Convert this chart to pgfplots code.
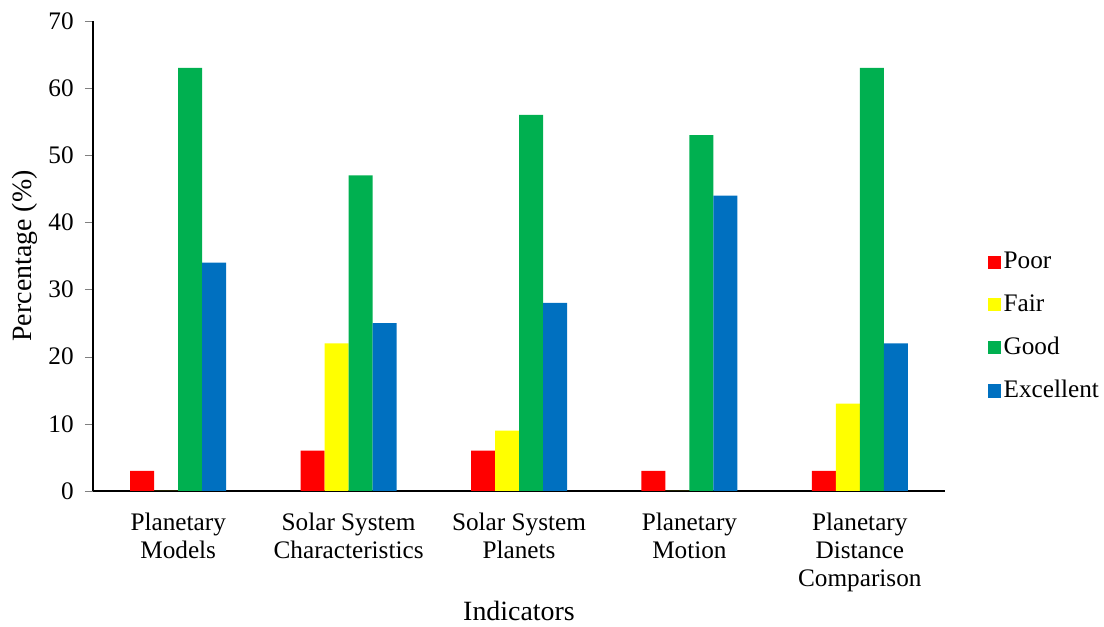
\documentclass[border=0pt]{standalone}
\usepackage{pgfplots}
\pgfplotsset{compat=1.18}
\usepackage{fontspec}
\setmainfont{Liberation Serif}
\definecolor{cpoor}{RGB}{255,0,0}
\definecolor{cfair}{RGB}{255,255,0}
\definecolor{cgood}{RGB}{0,176,80}
\definecolor{cexc}{RGB}{0,112,192}
\begin{document}
\fontsize{19}{21}\selectfont
\begin{tikzpicture}[x=1bp,y=1bp]
\path[use as bounding box] (0,0) rectangle (828,470.25);
\begin{axis}[
  at={(69.75bp,102bp)}, anchor=south west,
  scale only axis, width=639bp, height=352.5bp,
  ybar=0pt, bar width=18bp,
  xmin=-0.5, xmax=4.5, ymin=0, ymax=70,
  xtick=data,
  xticklabels={{Planetary\\Models},{Solar System\\Characteristics},{Solar System\\Planets},{Planetary\\Motion},{Planetary\\Distance\\Comparison}},
  x tick label style={align=center, font=\fontsize{19}{21}\selectfont, yshift=-4bp},
  xtick style={draw=none},
  ytick={0,10,...,70},
  y tick label style={font=\fontsize{19}{21}\selectfont, xshift=-2bp},
  /pgf/number format/assume math mode=true,
  tick align=outside, ytick pos=left,
  major tick length=6bp,
  axis x line*=bottom, axis y line*=left,
  axis line style={line width=1.2pt},
  y axis line style={-}, x axis line style={-},
  ylabel={Percentage (\%)}, xlabel={Indicators},
  ylabel style={font=\fontsize{21}{23}\selectfont, at={(axis description cs:-0.08,0.5)}, anchor=center},
  xlabel style={font=\fontsize{21}{23}\selectfont, at={(axis description cs:0.5,-0.255)}, anchor=center},
  legend style={at={(1.045,0.349)}, anchor=west, draw=none, fill=none, font=\fontsize{19}{21}\selectfont, row sep=12.5bp},
  legend cell align=left,
  legend image code/.code={\fill[#1] (0bp,-5bp) rectangle (10bp,5bp);},
]
\addplot[fill=cpoor, draw=none] coordinates {(0,3) (1,6) (2,6) (3,3) (4,3)};
\addplot[fill=cfair, draw=none] coordinates {(0,0) (1,22) (2,9) (3,0) (4,13)};
\addplot[fill=cgood, draw=none] coordinates {(0,63) (1,47) (2,56) (3,53) (4,63)};
\addplot[fill=cexc, draw=none] coordinates {(0,34) (1,25) (2,28) (3,44) (4,22)};
\legend{Poor,Fair,Good,Excellent}
\end{axis}
\end{tikzpicture}
\end{document}
